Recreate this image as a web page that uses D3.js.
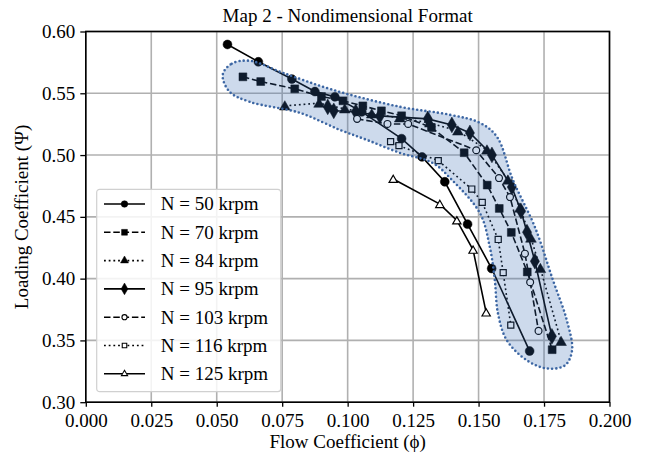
<!DOCTYPE html>
<html>
<head>
<meta charset="utf-8">
<script src="https://cdn.jsdelivr.net/npm/d3@7"></script>
<style>
  body { margin: 0; background: #fff; }
  svg { font-family: "Liberation Serif", "DejaVu Serif", serif; }
</style>
</head>
<body>
<svg id="chart"></svg>
<script>
const canWidth = 649;
const canHeight = 457;
const margin = {left: 85.8, right: 649 - 609.5, top: 31.5, bottom: 457 - 402.2};
const plotW = canWidth - margin.left - margin.right;
const plotH = canHeight - margin.top - margin.bottom;

const xTicks = [0, 0.025, 0.05, 0.075, 0.1, 0.125, 0.15, 0.175, 0.2];
const yTicks = [0.30, 0.35, 0.40, 0.45, 0.50, 0.55, 0.60];

// speed lines, flow coefficient (phi) and loading coefficient (psi)
const n50Phi = [0.0541, 0.0659, 0.0787, 0.0875, 0.0951, 0.1054, 0.1206, 0.1284, 0.1371, 0.1458, 0.1550, 0.1695];
const n50Psi = [0.5895, 0.5755, 0.5615, 0.5514, 0.5471, 0.5350, 0.5133, 0.4985, 0.4784, 0.4441, 0.4082, 0.3414];
const n70Phi = [0.0600, 0.0668, 0.0798, 0.0900, 0.0982, 0.1058, 0.1129, 0.1206, 0.1320, 0.1445, 0.1533, 0.1579, 0.1625, 0.1686, 0.1781];
const n70Psi = [0.5633, 0.5595, 0.5536, 0.5474, 0.5439, 0.5398, 0.5358, 0.5318, 0.5222, 0.5019, 0.4757, 0.4568, 0.4374, 0.4054, 0.3425];
const n84Phi = [0.0760, 0.0891, 0.0989, 0.1092, 0.1199, 0.1314, 0.1421, 0.1532, 0.1612, 0.1658, 0.1700, 0.1736, 0.1815];
const n84Psi = [0.5398, 0.5420, 0.5374, 0.5333, 0.5301, 0.5260, 0.5195, 0.5041, 0.4798, 0.4571, 0.4328, 0.4082, 0.3492];
const n95Phi = [0.0924, 0.0947, 0.1031, 0.1123, 0.1306, 0.1398, 0.1467, 0.1551, 0.1627, 0.1662, 0.1685, 0.1715, 0.1780];
const n95Psi = [0.5390, 0.5358, 0.5350, 0.5317, 0.5293, 0.5244, 0.5179, 0.5001, 0.4741, 0.4547, 0.4376, 0.4141, 0.3533];
const n103Phi = [0.1036, 0.1152, 0.1231, 0.1491, 0.1578, 0.1620, 0.1677, 0.1697, 0.1729];
const n103Psi = [0.5293, 0.5252, 0.5252, 0.5039, 0.4814, 0.4660, 0.4202, 0.3971, 0.3577];
const n116Phi = [0.1164, 0.1196, 0.1346, 0.1474, 0.1514, 0.1575, 0.1594, 0.1623];
const n116Psi = [0.5109, 0.5076, 0.4955, 0.4725, 0.4617, 0.4317, 0.4049, 0.3624];
const n125Phi = [0.1174, 0.1352, 0.1417, 0.1479, 0.1529];
const n125Psi = [0.4806, 0.4603, 0.4471, 0.4233, 0.3725];

// outline of the shaded operating region
const regionPhi = [0.0523, 0.0557, 0.0626, 0.0752, 0.0943, 0.1199, 0.1390, 0.1505, 0.1570, 0.1631, 0.1715, 0.1784, 0.1837, 0.1857, 0.1830,
                   0.1761, 0.1685, 0.1608, 0.1574, 0.1562, 0.1543, 0.1505, 0.1398, 0.1325, 0.1199, 0.1073, 0.0970, 0.0817, 0.0626, 0.0549];
const regionPsi = [0.5650, 0.5739, 0.5763, 0.5666, 0.5528, 0.5391, 0.5326, 0.5261, 0.5148, 0.4799, 0.4418, 0.3988, 0.3663, 0.3419, 0.3298,
                   0.3273, 0.3338, 0.3500, 0.3719, 0.3987, 0.4255, 0.4530, 0.4799, 0.4936, 0.5018, 0.5123, 0.5204, 0.5342, 0.5431, 0.5512];

const series = [
  {name: "N = 50 krpm",  phi: n50Phi,  psi: n50Psi,  dash: null,      marker: "circle",   open: false},
  {name: "N = 70 krpm",  phi: n70Phi,  psi: n70Psi,  dash: "6.5,2.8", marker: "square",   open: false},
  {name: "N = 84 krpm",  phi: n84Phi,  psi: n84Psi,  dash: "1.8,2.9", marker: "triangle", open: false},
  {name: "N = 95 krpm",  phi: n95Phi,  psi: n95Psi,  dash: null,      marker: "diamond",  open: false},
  {name: "N = 103 krpm", phi: n103Phi, psi: n103Psi, dash: "6.5,2.8", marker: "circle",   open: true},
  {name: "N = 116 krpm", phi: n116Phi, psi: n116Psi, dash: "1.8,2.9", marker: "square",   open: true},
  {name: "N = 125 krpm", phi: n125Phi, psi: n125Psi, dash: null,      marker: "triangle", open: true}
];

const xs = d3.scaleLinear().domain([0, 0.2]).range([0, plotW]);
const ys = d3.scaleLinear().domain([0.3, 0.6]).range([plotH, 0]);

const symbolTypes = {circle: d3.symbolCircle, square: d3.symbolSquare, triangle: d3.symbolTriangle, diamond: d3.symbolDiamond};
function markerPath(kind, open, scale) {
    // sizes in px^2, roughly matching the picture
    let size = {circle: 62, square: 62, triangle: 50, diamond: 72}[kind];
    if (open) size = size * 0.6;
    return d3.symbol().type(symbolTypes[kind]).size(size * scale)();
}

const svg = d3.select('#chart').attr('width', canWidth).attr('height', canHeight);
const g = svg.append('g').attr('transform', `translate(${margin.left},${margin.top})`);

// grid
g.append('g').selectAll('line').data(xTicks).enter().append('line')
  .attr('x1', d => xs(d)).attr('x2', d => xs(d)).attr('y1', 0).attr('y2', plotH)
  .attr('stroke', '#b0b0b0').attr('stroke-width', 1.6);
g.append('g').selectAll('line').data(yTicks).enter().append('line')
  .attr('y1', d => ys(d)).attr('y2', d => ys(d)).attr('x1', 0).attr('x2', plotW)
  .attr('stroke', '#b0b0b0').attr('stroke-width', 1.6);

// lines and markers
const line = d3.line().x(d => xs(d[0])).y(d => ys(d[1]));
series.forEach(s => {
    const pts = s.phi.map((p, i) => [p, s.psi[i]]);
    g.append('path').datum(pts)
      .attr('d', line)
      .attr('fill', 'none')
      .attr('stroke', '#000')
      .attr('stroke-width', 1.6)
      .attr('stroke-dasharray', s.dash);
    g.append('g').selectAll('path').data(pts).enter().append('path')
      .attr('d', markerPath(s.marker, s.open, 1))
      .attr('transform', d => `translate(${xs(d[0])},${ys(d[1])})` + (s.marker == 'triangle' ? ' translate(0,1)' : ''))
      .attr('fill', s.open ? '#fff' : '#000')
      .attr('stroke', '#000')
      .attr('stroke-width', s.open ? 1.2 : 0.5);
});

// shaded region drawn over the lines
const regionPts = regionPhi.map((p, i) => [p, regionPsi[i]]);
g.append('path').datum(regionPts)
  .attr('d', d3.line().x(d => xs(d[0])).y(d => ys(d[1])).curve(d3.curveCatmullRomClosed.alpha(0.5)))
  .attr('fill', '#376bb3')
  .attr('fill-opacity', 0.25)
  .attr('stroke', '#3c66a3')
  .attr('stroke-width', 2.6)
  .attr('stroke-dasharray', '0,4.2')
  .attr('stroke-linecap', 'round');

// axes frame and ticks
g.append('rect').attr('width', plotW).attr('height', plotH)
  .attr('fill', 'none').attr('stroke', '#000').attr('stroke-width', 1.6);

const xa = d3.axisBottom(xs).tickValues(xTicks).tickFormat(d3.format('.3f')).tickSize(4.5).tickPadding(7);
const ya = d3.axisLeft(ys).tickValues(yTicks).tickFormat(d3.format('.2f')).tickSize(5.5).tickPadding(5);
const gx = g.append('g').attr('transform', `translate(0,${plotH})`).call(xa);
const gy = g.append('g').call(ya);
[gx, gy].forEach(a => {
    a.select('.domain').remove();
    a.selectAll('line').attr('stroke', '#000').attr('stroke-width', 1.3);
    a.selectAll('text').attr('fill', '#000').style('font-size', '19px')
      .style('font-family', '"Liberation Serif", serif');
});

// legend
const legend = svg.append('g').attr('transform', 'translate(96.7,189.3)');
legend.append('rect').attr('width', 184).attr('height', 202.4).attr('rx', 3)
  .attr('fill', '#fff').attr('fill-opacity', 0.85).attr('stroke', '#d0d0d0').attr('stroke-width', 1.2);
series.forEach((s, i) => {
    const ly = 14.7 + i * 28.3;
    legend.append('line').attr('x1', 7.3).attr('x2', 48.3).attr('y1', ly).attr('y2', ly)
      .attr('stroke', '#000').attr('stroke-width', 1.6).attr('stroke-dasharray', s.dash);
    legend.append('path').attr('d', markerPath(s.marker, s.open, 0.55))
      .attr('transform', `translate(27.8,${ly})`)
      .attr('fill', s.open ? '#fff' : '#000').attr('stroke', '#000').attr('stroke-width', s.open ? 1.1 : 0.5);
    legend.append('text').attr('x', 64).attr('y', ly + 6.5).text(s.name)
      .style('font-size', '19px').attr('fill', '#000');
});

// title and axis labels
svg.append('text').attr('x', margin.left + plotW / 2).attr('y', 22).attr('text-anchor', 'middle')
  .style('font-size', '19px').text('Map 2 - Nondimensional Format');
svg.append('text').attr('x', margin.left + plotW / 2).attr('y', 448).attr('text-anchor', 'middle')
  .style('font-size', '19px').text('Flow Coefficient (ϕ)');
svg.append('text').attr('transform', `translate(28,${margin.top + plotH / 2}) rotate(-90)`)
  .attr('text-anchor', 'middle').style('font-size', '19px').text('Loading Coefficient (Ψ)');
</script>
</body>
</html>
